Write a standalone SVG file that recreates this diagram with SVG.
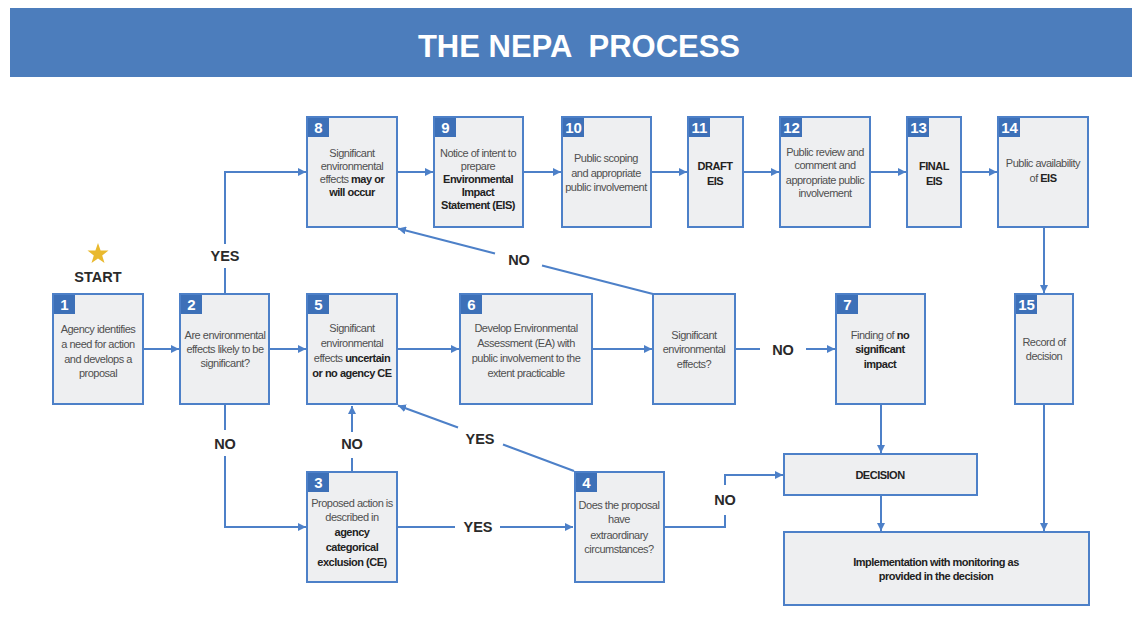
<svg xmlns="http://www.w3.org/2000/svg" width="1132" height="644" viewBox="0 0 1132 644">
<defs>
<style>
.box{fill:#eeeff1;stroke:#4d80c8;stroke-width:2}
.badge{fill:#3d70b8}
.num{font-family:"Liberation Sans",Arial,sans-serif;font-size:15px;font-weight:bold;fill:#fff;text-anchor:middle}
.t{font-family:"Liberation Sans",Arial,sans-serif;font-size:11px;letter-spacing:-0.5px;fill:#505050;text-anchor:middle}
.b{font-weight:bold;fill:#222}
.lbl{font-family:"Liberation Sans",Arial,sans-serif;font-size:14.5px;font-weight:bold;fill:#2a2a2a;text-anchor:middle}
.c{fill:none;stroke:#4d80c8;stroke-width:2}
.title{font-family:"Liberation Sans",Arial,sans-serif;font-size:31px;font-weight:bold;fill:#fff;text-anchor:middle;white-space:pre}
</style>
<marker id="ah" viewBox="0 0 8 8" refX="8" refY="4" markerWidth="8" markerHeight="8" markerUnits="userSpaceOnUse" orient="auto">
<path d="M0,0 L8,4 L0,8 z" fill="#4d80c8"/>
</marker>
</defs>
<rect width="1132" height="644" fill="#ffffff"/>
<g id="title">
<rect x="10" y="8" width="1122" height="69" fill="#4c7dbc"/>
<text class="title" x="579" y="57" xml:space="preserve">THE NEPA  PROCESS</text>
</g>
<g id="start">
<polygon points="98,243 100.6,250.4 108.5,250.6 102.2,255.4 104.5,263 98,258.5 91.5,263 93.8,255.4 87.5,250.6 95.4,250.4" fill="#e9b92e"/>
<text class="lbl" x="98" y="282">START</text>
</g>
<g id="connectors">
<path class="c" d="M143,349 H179" marker-end="url(#ah)"/>
<path class="c" d="M269,349 H306" marker-end="url(#ah)"/>
<path class="c" d="M397,349 H459" marker-end="url(#ah)"/>
<path class="c" d="M592,349 H652" marker-end="url(#ah)"/>
<path class="c" d="M735,349 H760"/>
<path class="c" d="M806,349 H835" marker-end="url(#ah)"/>
<path class="c" d="M225,294 V268"/>
<path class="c" d="M225,244 V172 H306" marker-end="url(#ah)"/>
<path class="c" d="M397,172 H433" marker-end="url(#ah)"/>
<path class="c" d="M523,172 H561" marker-end="url(#ah)"/>
<path class="c" d="M651,172 H687" marker-end="url(#ah)"/>
<path class="c" d="M743,172 H779" marker-end="url(#ah)"/>
<path class="c" d="M870,172 H906" marker-end="url(#ah)"/>
<path class="c" d="M961,172 H997" marker-end="url(#ah)"/>
<path class="c" d="M1044,227 V293" marker-end="url(#ah)"/>
<path class="c" d="M653,294 L542,265.5"/>
<path class="c" d="M495,253.5 L398,228.5" marker-end="url(#ah)"/>
<path class="c" d="M225,404 V430"/>
<path class="c" d="M225,456 V527 H306" marker-end="url(#ah)"/>
<path class="c" d="M352,471 V458"/>
<path class="c" d="M352,432 V406" marker-end="url(#ah)"/>
<path class="c" d="M574,471 L503,444.5"/>
<path class="c" d="M458,427.5 L398,405.5" marker-end="url(#ah)"/>
<path class="c" d="M397,527 H455"/>
<path class="c" d="M500,527 H573" marker-end="url(#ah)"/>
<path class="c" d="M664,527 H725 V515"/>
<path class="c" d="M725,485 V475 H783" marker-end="url(#ah)"/>
<path class="c" d="M881,405 V453" marker-end="url(#ah)"/>
<path class="c" d="M881,495 V531" marker-end="url(#ah)"/>
<path class="c" d="M1044,405 V531" marker-end="url(#ah)"/>
<text class="lbl" x="225" y="261">YES</text>
<text class="lbl" x="519" y="265">NO</text>
<text class="lbl" x="783" y="355">NO</text>
<text class="lbl" x="225" y="449">NO</text>
<text class="lbl" x="352" y="449">NO</text>
<text class="lbl" x="480" y="444">YES</text>
<text class="lbl" x="478" y="532">YES</text>
<text class="lbl" x="725" y="505">NO</text>
</g>
<g id="n1">
<rect class="box" x="53" y="294" width="90" height="110"/>
<rect class="badge" x="54" y="295" width="21" height="19"/>
<text class="num" x="64.5" y="310">1</text>
<text class="t" x="98" y="333">Agency identifies</text>
<text class="t" x="98" y="348">a need for action</text>
<text class="t" x="98" y="363">and develops a</text>
<text class="t" x="98" y="377">proposal</text>
</g>
<g id="n2">
<rect class="box" x="180" y="294" width="89" height="110"/>
<rect class="badge" x="181" y="295" width="21" height="19"/>
<text class="num" x="191.5" y="310">2</text>
<text class="t" x="225" y="339">Are environmental</text>
<text class="t" x="225" y="353">effects likely to be</text>
<text class="t" x="225" y="367">significant?</text>
</g>
<g id="n5">
<rect class="box" x="307" y="294" width="90" height="110"/>
<rect class="badge" x="308" y="295" width="21" height="19"/>
<text class="num" x="318.5" y="310">5</text>
<text class="t" x="352" y="332">Significant</text>
<text class="t" x="352" y="347">environmental</text>
<text class="t" x="352" y="362">effects <tspan class="b">uncertain</tspan></text>
<text class="t b" x="352" y="377">or no agency CE</text>
</g>
<g id="n6">
<rect class="box" x="460" y="294" width="132" height="110"/>
<rect class="badge" x="461" y="295" width="21" height="19"/>
<text class="num" x="471.5" y="310">6</text>
<text class="t" x="526" y="332">Develop Environmental</text>
<text class="t" x="526" y="347">Assessment (EA) with</text>
<text class="t" x="526" y="362">public involvement to the</text>
<text class="t" x="526" y="377">extent practicable</text>
</g>
<g id="nsig">
<rect class="box" x="653" y="294" width="82" height="110"/>
<text class="t" x="694" y="339">Significant</text>
<text class="t" x="694" y="353">environmental</text>
<text class="t" x="694" y="368">effects?</text>
</g>
<g id="n7">
<rect class="box" x="836" y="294" width="89" height="110"/>
<rect class="badge" x="837" y="295" width="21" height="19"/>
<text class="num" x="847.5" y="310">7</text>
<text class="t" x="880" y="339">Finding of <tspan class="b">no</tspan></text>
<text class="t b" x="880" y="353">significant</text>
<text class="t b" x="880" y="368">impact</text>
</g>
<g id="n15">
<rect class="box" x="1015" y="294" width="58" height="110"/>
<rect class="badge" x="1016" y="295" width="21" height="19"/>
<text class="num" x="1026.5" y="310">15</text>
<text class="t" x="1044" y="346">Record of</text>
<text class="t" x="1044" y="360">decision</text>
</g>
<g id="n8">
<rect class="box" x="307" y="117" width="90" height="110"/>
<rect class="badge" x="308" y="118" width="21" height="19"/>
<text class="num" x="318.5" y="133">8</text>
<text class="t" x="352" y="157">Significant</text>
<text class="t" x="352" y="170">environmental</text>
<text class="t" x="352" y="183">effects <tspan class="b">may or</tspan></text>
<text class="t b" x="352" y="196">will occur</text>
</g>
<g id="n9">
<rect class="box" x="434" y="117" width="89" height="110"/>
<rect class="badge" x="435" y="118" width="21" height="19"/>
<text class="num" x="445.5" y="133">9</text>
<text class="t" x="478" y="157">Notice of intent to</text>
<text class="t" x="478" y="170">prepare</text>
<text class="t b" x="478" y="183">Environmental</text>
<text class="t b" x="478" y="196">Impact</text>
<text class="t b" x="478" y="209">Statement (EIS)</text>
</g>
<g id="n10">
<rect class="box" x="562" y="117" width="89" height="110"/>
<rect class="badge" x="563" y="118" width="21" height="19"/>
<text class="num" x="573.5" y="133">10</text>
<text class="t" x="606" y="162">Public scoping</text>
<text class="t" x="606" y="177">and appropriate</text>
<text class="t" x="606" y="191">public involvement</text>
</g>
<g id="n11">
<rect class="box" x="688" y="117" width="55" height="110"/>
<rect class="badge" x="689" y="118" width="21" height="19"/>
<text class="num" x="699.5" y="133">11</text>
<text class="t b" x="715" y="170">DRAFT</text>
<text class="t b" x="715" y="185">EIS</text>
</g>
<g id="n12">
<rect class="box" x="780" y="117" width="90" height="110"/>
<rect class="badge" x="781" y="118" width="21" height="19"/>
<text class="num" x="791.5" y="133">12</text>
<text class="t" x="825" y="156">Public review and</text>
<text class="t" x="825" y="169">comment and</text>
<text class="t" x="825" y="184">appropriate public</text>
<text class="t" x="825" y="197">involvement</text>
</g>
<g id="n13">
<rect class="box" x="907" y="117" width="54" height="110"/>
<rect class="badge" x="908" y="118" width="21" height="19"/>
<text class="num" x="918.5" y="133">13</text>
<text class="t b" x="934" y="170">FINAL</text>
<text class="t b" x="934" y="185">EIS</text>
</g>
<g id="n14">
<rect class="box" x="998" y="117" width="90" height="110"/>
<rect class="badge" x="999" y="118" width="21" height="19"/>
<text class="num" x="1009.5" y="133">14</text>
<text class="t" x="1043" y="167">Public availability</text>
<text class="t" x="1043" y="182">of <tspan class="b">EIS</tspan></text>
</g>
<g id="n3">
<rect class="box" x="307" y="472" width="90" height="110"/>
<rect class="badge" x="308" y="473" width="21" height="19"/>
<text class="num" x="318.5" y="488">3</text>
<text class="t" x="352" y="507">Proposed action is</text>
<text class="t" x="352" y="521">described in</text>
<text class="t b" x="352" y="536">agency</text>
<text class="t b" x="352" y="551">categorical</text>
<text class="t b" x="352" y="566">exclusion (CE)</text>
</g>
<g id="n4">
<rect class="box" x="575" y="472" width="89" height="110"/>
<rect class="badge" x="576" y="473" width="21" height="19"/>
<text class="num" x="586.5" y="488">4</text>
<text class="t" x="619" y="509">Does the proposal</text>
<text class="t" x="619" y="523">have</text>
<text class="t" x="619" y="539">extraordinary</text>
<text class="t" x="619" y="553">circumstances?</text>
</g>
<g id="ndecision">
<rect class="box" x="784" y="454" width="193" height="41"/>
<text class="t b" x="880" y="479">DECISION</text>
</g>
<g id="nimpl">
<rect class="box" x="784" y="532" width="305" height="73"/>
<text class="t b" x="936" y="566">Implementation with monitoring as</text>
<text class="t b" x="936" y="580">provided in the decision</text>
</g>
</svg>
